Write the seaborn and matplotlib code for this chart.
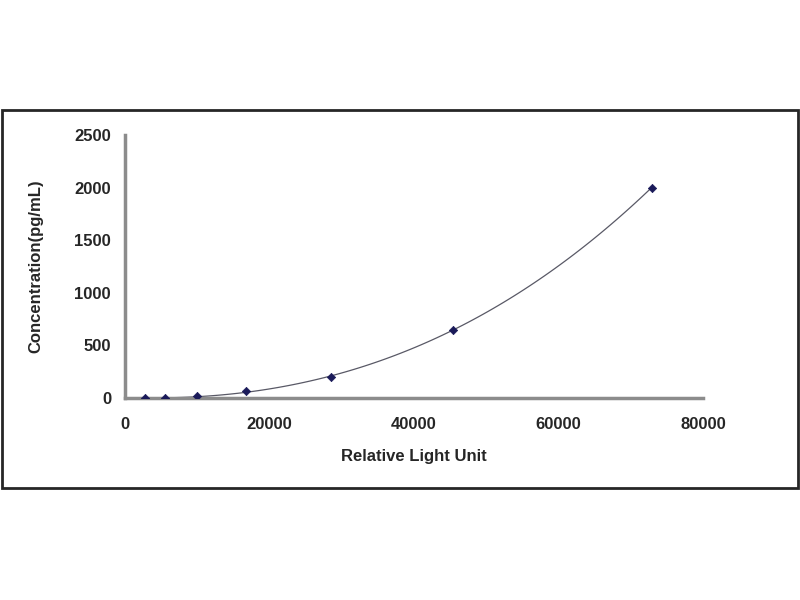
import matplotlib
matplotlib.use('agg')
import matplotlib.pyplot as plt
import seaborn as sns
import numpy as np
import pandas as pd
from matplotlib.patches import Rectangle

# standard curve values
rlu = [2800, 5600, 10000, 16800, 28500, 45400, 72900]
conc = [0, 0, 15, 62, 200, 650, 2000]

x_ticks = [0, 20000, 40000, 60000, 80000]
y_ticks = [0, 500, 1000, 1500, 2000, 2500]

AXIS_GRAY = (0.55, 0.55, 0.55)
NAVY = (0.1, 0.1, 0.35)

sns.set_style("white")
plt.rcParams['font.family'] = ['Liberation Sans', 'DejaVu Sans']
plt.rcParams['font.weight'] = 'bold'

df = pd.DataFrame({'rlu': rlu, 'conc': conc})

fig = plt.figure(figsize=[8, 6], dpi=100)
ax = fig.add_axes([125 / 800, 1 - 398 / 600, 578 / 800, 263 / 600])

# fitted curve, then the points on top
sns.regplot(data=df, x='rlu', y='conc', order=3, ci=None, scatter=False,
            line_kws={'color': (0.35, 0.35, 0.4), 'linewidth': 0.9}, ax=ax)
sns.scatterplot(data=df, x='rlu', y='conc', marker='D', s=18, color=NAVY,
                edgecolor=NAVY, linewidth=0.5, zorder=5, ax=ax)

ax.set_xlim(0, 80000)
ax.set_ylim(0, 2500)
ax.set_xticks(x_ticks)
ax.set_yticks(y_ticks)
ax.set_xticklabels([str(t) for t in x_ticks])
ax.set_yticklabels([str(t) for t in y_ticks])

ax.spines['right'].set_visible(False)
ax.spines['top'].set_visible(False)
for s in ['left', 'bottom']:
    ax.spines[s].set_color(AXIS_GRAY)
    ax.spines[s].set_linewidth(2.5)
ax.tick_params(axis='both', direction='in', length=4, width=1.2, color=(0.2, 0.2, 0.2),
               labelsize=12)
ax.tick_params(axis='x', pad=14)
ax.tick_params(axis='y', pad=10)
for lab in ax.get_xticklabels() + ax.get_yticklabels():
    lab.set_fontweight('bold')
    lab.set_color((0.15, 0.15, 0.15))

ax.set_xlabel('Relative Light Unit', fontsize=12, fontweight='bold', labelpad=12)
ax.set_ylabel('Concentration(pg/mL)', fontsize=12, fontweight='bold', labelpad=22)

# outer frame around the chart area
fig.patches.append(Rectangle((2 / 800, 1 - 488 / 600), 796 / 800, 378 / 600,
                             transform=fig.transFigure, fill=False,
                             edgecolor=(0.15, 0.15, 0.15), linewidth=2))

fig.savefig('out.png', dpi=100)
